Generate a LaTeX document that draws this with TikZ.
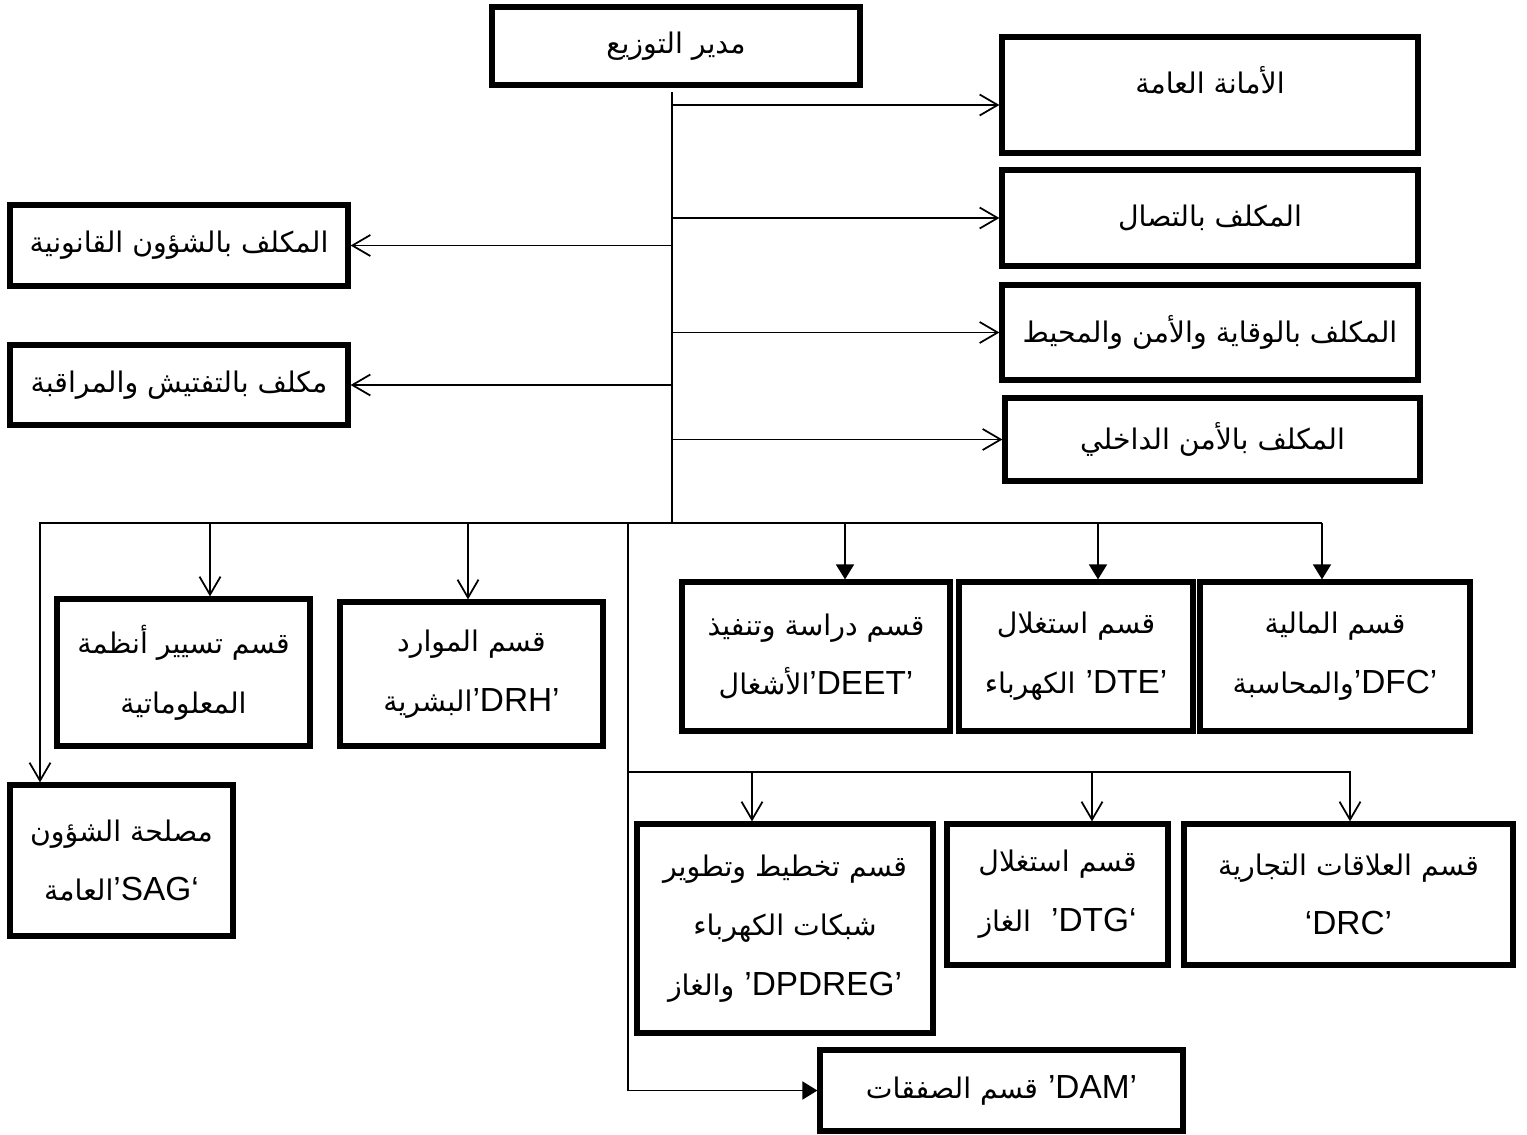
\documentclass[tikz,border=0pt]{standalone}
\usepackage{fontspec}
\usetikzlibrary{arrows.meta}
\TeXXeTstate=1
\newfontfamily\arabicfont[Script=Arabic,Scale=0.85]{DejaVu Sans}
\newfontfamily\latinfont{Liberation Sans}
\newcommand{\artext}[1]{{\arabicfont\beginR #1\endR}}
\newcommand{\latext}[1]{{\latinfont #1}}

\begin{document}
\begin{tikzpicture}[x=0.02cm,y=-0.02cm,>={Straight Barb[length=3.6mm,width=4.2mm]},
  box/.style={draw,line width=3pt,inner sep=0pt,align=center},
  dims/.style 2 args={minimum width=#1cm,minimum height=#2cm},
  link/.style={line width=1pt},
  tri/.style={-{Triangle[length=3mm,width=3.6mm]}},
  font=\fontsize{19}{34}\selectfont]
\useasboundingbox (0,0) rectangle (1527,1135);

\node[box,dims={7.36}{1.56}] (dir) at (676,46) {\artext{مدير التوزيع}};
\node[box,dims={8.32}{2.32}] (ama) at (1210,95) {\raisebox{0.6cm}{\artext{الأمانة العامة}}};
\node[box,dims={8.32}{1.92}] (ittisal) at (1210,218) {\artext{المكلف بالتصال}};
\node[box,dims={8.32}{1.9}] (wiqaya) at (1210,332.5) {\artext{المكلف بالوقاية والأمن والمحيط}};
\node[box,dims={8.3}{1.66}] (amn) at (1212.5,439.5) {\artext{المكلف بالأمن الداخلي}};
\node[box,dims={6.76}{1.62}] (qanun) at (179,245.5) {\artext{المكلف بالشؤون القانونية}};
\node[box,dims={6.76}{1.6}] (taftish) at (179,385) {\artext{مكلف بالتفتيش والمراقبة}};

\node[box,dims={5.06}{2.94}] (info) at (183.5,672.5) {\artext{قسم تسيير أنظمة}\\\artext{المعلوماتية}};
\node[box,dims={5.26}{2.88}] (drh) at (471.5,674) {\artext{قسم الموارد}\\\artext{البشرية}\latext{’DRH’}};
\node[box,dims={5.36}{2.98}] (deet) at (816,656.5) {\artext{قسم دراسة وتنفيذ}\\\artext{الأشغال}\latext{’DEET’}};
\node[box,dims={4.68}{2.98}] (dte) at (1076,656.5) {\artext{قسم استغلال}\\\artext{الكهرباء} \latext{’DTE’}};
\node[box,dims={5.4}{2.98}] (dfc) at (1335,656.5) {\artext{قسم المالية}\\\artext{والمحاسبة}\latext{’DFC’}};
\node[box,dims={4.46}{3.02}] (sag) at (121.5,860.5) {\artext{مصلحة الشؤون}\\\artext{العامة}\latext{’SAG‘}};

\node[box,dims={5.92}{4.18}] (dpdreg) at (785,928.5) {\artext{قسم تخطيط وتطوير}\\\artext{شبكات الكهرباء}\\\artext{والغاز} \latext{’DPDREG’}};
\node[box,dims={4.42}{2.82}] (dtg) at (1057.5,894.5) {\artext{قسم استغلال}\\\artext{الغاز} \ \latext{’DTG‘}};
\node[box,dims={6.58}{2.82}] (drc) at (1348.5,894.5) {\artext{قسم العلاقات التجارية}\\\latext{‘DRC’}};
\node[box,dims={7.26}{1.62}] (dam) at (1001.5,1090.5) {\artext{قسم الصفقات} \latext{’DAM’}};

\coordinate (top) at (672,92);
\coordinate (mid) at (672,523);
\draw[link] (top) -- (mid);
\draw[link,->] ([yshift=-0.2cm]top |- ama.west) -- ([yshift=-0.2cm]ama.west);
\foreach \n in {ittisal,wiqaya,amn,qanun,taftish}
  \draw[link,->] (top |- \n) -- (\n);

\coordinate (b1) at (40,523);
\coordinate (b2) at (210,523);
\coordinate (b3) at (468,523);
\coordinate (b4) at (628,523);
\coordinate (b5) at (845,523);
\coordinate (b6) at (1098,523);
\coordinate (b7) at (1322,523);
\draw[link,->] (b7) -- (b1) -- (b1 |- sag.north);
\draw[link,->] (b2) -- (b2 |- info.north);
\draw[link,->] (b3) -- (b3 |- drh.north);
\draw[link,tri] (b5) -- (b5 |- deet.north);
\draw[link,tri] (b6) -- (b6 |- dte.north);
\draw[link,tri] (b7) -- (b7 |- dfc.north);
\draw[link,tri] (b4) |- (dam.west);

\coordinate (c0) at (628,772);
\coordinate (c1) at (752,772);
\coordinate (c2) at (1092,772);
\coordinate (c3) at (1350,772);
\draw[link,->] (c0) -- (c3) -- (c3 |- drc.north);
\draw[link,->] (c1) -- (c1 |- dpdreg.north);
\draw[link,->] (c2) -- (c2 |- dtg.north);
\end{tikzpicture}
\end{document}
